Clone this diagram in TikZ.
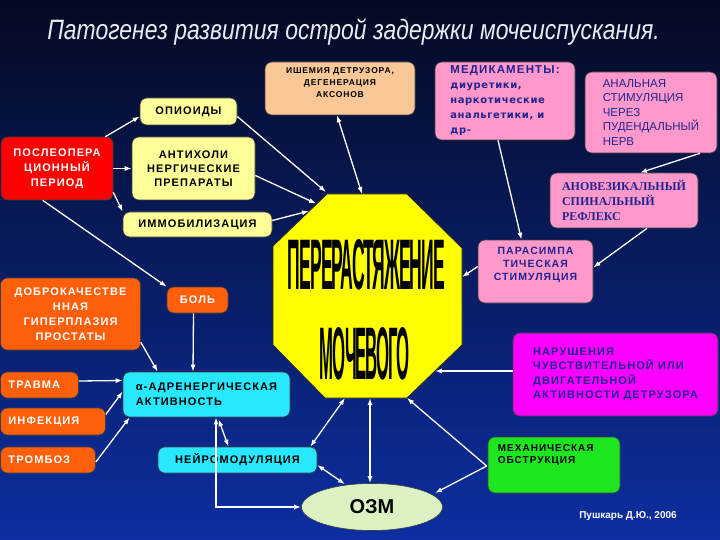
\documentclass[tikz,border=0pt]{standalone}
\usepackage{fontspec}
\usepackage{graphicx}
\setmainfont{Liberation Sans}
\newfontfamily\widefont[LetterSpace=10]{Liberation Sans}
\newfontfamily\dvfont[LetterSpace=6]{DejaVu Sans}
\newfontfamily\serfont{Liberation Serif}
\newfontfamily\bigfont[LetterSpace=-6]{Liberation Sans}
\usetikzlibrary{arrows.meta,calc,shapes.geometric}
\definecolor{bgtop}{RGB}{5,10,35}
\definecolor{bgmid}{RGB}{10,36,130}
\definecolor{bgbot}{RGB}{12,46,160}
\definecolor{lyel}{RGB}{255,255,153}
\definecolor{peach}{RGB}{250,200,150}
\definecolor{pinkb}{RGB}{255,153,204}
\definecolor{magb}{RGB}{255,0,255}
\definecolor{greenb}{RGB}{30,230,30}
\definecolor{ozmc}{RGB}{220,242,195}
\definecolor{cyanb}{RGB}{40,232,255}
\definecolor{orangeb}{RGB}{255,95,10}
\definecolor{redb}{RGB}{255,0,0}
\definecolor{octy}{RGB}{255,255,0}
\definecolor{tblue}{RGB}{35,35,140}
\definecolor{titlec}{RGB}{235,235,245}
\tikzset{
  box/.style={rounded corners=7pt, draw=black!75, line width=0.6pt, inner sep=0pt,
    align=center, text=black, font=\widefont\bfseries\fontsize{11}{15}\selectfont},
  lbox/.style={box, align=left},
  conn/.style={draw=white, line width=1.3pt, -{Latex[length=7pt,width=5pt]}},
  dconn/.style={draw=white, line width=1.3pt, {Latex[length=7pt,width=5pt]}-{Latex[length=7pt,width=5pt]}},
}
\begin{document}
\begin{tikzpicture}[x=1pt,y=-1pt]
\useasboundingbox (0,0) rectangle (720,540);
\shade[top color=bgtop, middle color=bgmid, bottom color=bgbot] (0,0) rectangle (720,540);

% title
\node[anchor=base, inner sep=0, text=titlec, font=\itshape\fontsize{28}{30}\selectfont] (title) at (353.5,40)
  {\scalebox{0.82}[1]{Патогенез развития острой задержки мочеиспускания.}};

% left / top boxes
\node[box, fill=lyel, minimum width=97, minimum height=27] (op) at (188.5,111.5) {ОПИОИДЫ};
\node[box, fill=redb, text=white, minimum width=112, minimum height=63] (post) at (57,168.5) {ПОСЛЕОПЕРА\\ЦИОННЫЙ\\ПЕРИОД};
\node[box, fill=lyel, minimum width=123, minimum height=63, font=\widefont\bfseries\fontsize{11}{14}\selectfont] (anti) at (193.5,168.5) {АНТИХОЛИ\\НЕРГИЧЕСКИЕ\\ПРЕПАРАТЫ};
\node[box, fill=lyel, minimum width=149, minimum height=25] (immob) at (197.5,224.5) {ИММОБИЛИЗАЦИЯ};
\node[box, fill=peach, minimum width=150, minimum height=53] (ischem) at (340,88.5) {};
\node[anchor=north, inner sep=0, align=center, font=\widefont\bfseries\fontsize{8.5}{12}\selectfont] (ischemt)
  at ($(ischem.north)+(0,6)$) {ИШЕМИЯ ДЕТРУЗОРА,\\ДЕГЕНЕРАЦИЯ\\АКСОНОВ};

% right boxes
\node[lbox, fill=pinkb, text=tblue, minimum width=140, minimum height=78, font=\dvfont\bfseries\fontsize{10}{15}\selectfont] (med) at (505,101)
  {{\widefont\fontsize{11.5}{15}\selectfont МЕДИКАМЕНТЫ:}\\диуретики,\\наркотические\\анальгетики, и\\др-};
\node[lbox, fill=pinkb, text=tblue, minimum width=132, minimum height=81, font=\fontsize{11.5}{14.5}\selectfont] (anal) at (651,112.5)
  {АНАЛЬНАЯ\\СТИМУЛЯЦИЯ\\ЧЕРЕЗ\\ПУДЕНДАЛЬНЫЙ\\НЕРВ};
\node[lbox, fill=pinkb, text=tblue, minimum width=148, minimum height=55, font=\serfont\bfseries\fontsize{12}{15}\selectfont] (anov) at (624,200.5)
  {АНОВЕЗИКАЛЬНЫЙ\\СПИНАЛЬНЫЙ\\РЕФЛЕКС};
\node[box, fill=pinkb, minimum width=115, minimum height=63] (para) at (535.5,271.5) {};
\node[anchor=north, inner sep=0, align=center, text=tblue, font=\widefont\bfseries\fontsize{10.5}{13}\selectfont] (parat)
  at ($(para.north)+(0,7)$) {ПАРАСИМПА\\ТИЧЕСКАЯ\\СТИМУЛЯЦИЯ};
\node[lbox, fill=magb, text=tblue, minimum width=205, minimum height=83, font=\widefont\bfseries\fontsize{11}{14.5}\selectfont] (nar) at (615.5,374.5)
  {НАРУШЕНИЯ\\ЧУВСТВИТЕЛЬНОЙ ИЛИ\\ДВИГАТЕЛЬНОЙ\\АКТИВНОСТИ ДЕТРУЗОРА};
\node[box, fill=greenb, minimum width=132, minimum height=56] (mech) at (554,465) {};
\node[anchor=north west, inner sep=0, align=left, font=\widefont\bfseries\fontsize{10}{12}\selectfont] (mecht)
  at ($(mech.north west)+(10,8)$) {МЕХАНИЧЕСКАЯ\\ОБСТРУКЦИЯ};

% lower left boxes
\node[box, fill=orangeb, text=white, minimum width=61, minimum height=26] (bol) at (197.5,300) {БОЛЬ};
\node[box, fill=orangeb, text=white, minimum width=140, minimum height=72] (dobr) at (70.5,314)
  {ДОБРОКАЧЕСТВЕ\\ННАЯ\\ГИПЕРПЛАЗИЯ\\ПРОСТАТЫ};
\node[box, fill=orangeb, text=white, align=left, text width=62, inner xsep=8, minimum height=26] (trav) at (39.5,385) {ТРАВМА};
\node[box, fill=orangeb, text=white, align=left, text width=89, inner xsep=8, minimum height=27] (inf) at (53,421.5) {ИНФЕКЦИЯ};
\node[box, fill=orangeb, text=white, align=left, text width=79, inner xsep=8, minimum height=26] (tromb) at (48,460) {ТРОМБОЗ};
\node[lbox, fill=cyanb, minimum width=167, minimum height=45] (alpha) at (206.5,394.5) {α-АДРЕНЕРГИЧЕСКАЯ\\АКТИВНОСТЬ};
\node[box, fill=cyanb, minimum width=159, minimum height=26] (neuro) at (237.5,460) {НЕЙРОМОДУЛЯЦИЯ};
\node[ellipse, draw=black!75, line width=0.6pt, fill=ozmc, minimum width=141, minimum height=47, inner sep=0,
  font=\bfseries\fontsize{20}{24}\selectfont] (ozm) at (372,507) {ОЗМ};
\node[text=white, inner sep=0, font=\bfseries\fontsize{10}{12}\selectfont] (push) at (628,516) {Пушкарь Д.Ю., 2006};

% octagon
\draw[fill=octy, draw=black!85, line width=0.8pt] (327,194) -- (407,194) -- (462,248) -- (462,345) -- (407,398) -- (325,398) -- (273,345) -- (273,246) -- cycle;
\node[inner sep=0] (w1) at (366.5,265) {\resizebox{157pt}{50pt}{\bigfont\bfseries ПЕРЕРАСТЯЖЕНИЕ}};
\node[inner sep=0] (w2) at (365,354) {\resizebox{90pt}{52pt}{\bigfont\bfseries МОЧЕВОГО}};
\coordinate (oA) at (326,192);
\coordinate (oB) at (316,203.5);
\coordinate (oC) at (309,211);
\coordinate (oD) at (362,194);
\coordinate (oE) at (462,277);
\coordinate (oF) at (435,371);
\coordinate (oG) at (345,398);
\coordinate (oH) at (370,398);
\coordinate (oI) at (407,398);

% connectors
\draw[conn] ($(post.north east)+(-8,0)$) -- ($(op.west)+(0,5)$);
\draw[conn] (post.east) -- (anti.west);
\draw[conn] ($(post.south east)+(0,-8)$) -- (immob.north west);
\draw[conn] ($(post.south west)+(42,0)$) -- (bol.north west);
\draw[conn] ($(op.east)+(0,5)$) -- (oA);
\draw[conn] ($(anti.east)+(0,7)$) -- (oB);
\draw[conn] ($(immob.east)+(0,-4)$) -- (oC);
\draw[dconn] ($(ischem.south)+(-3,0)$) -- (oD);
\draw[conn] ($(med.south)+(-7,0)$) -- ($(para.north)+(-14,0)$);
\draw[conn] ($(anal.south)+(49,0)$) -- ($(anov.north)+(16,0)$);
\draw[conn] ($(anov.south)+(23,0)$) -- ($(para.east)+(0,-4)$);
\draw[conn] ($(para.west)+(0,-5)$) -- (oE);
\draw[conn] ($(nar.west)+(0,-3.5)$) -- (oF);
\draw[conn] ($(dobr.south east)+(0,-8)$) -- ($(alpha.north west)+(35,0)$);
\draw[conn] ($(bol.south)+(-4,0)$) -- ($(alpha.north)+(-13.5,0)$);
\draw[conn] ($(trav.east)+(0,-4)$) -- ($(alpha.west)+(0,-14)$);
\draw[conn] ($(inf.east)+(0,-7)$) -- ($(alpha.west)+(0,-3)$);
\draw[conn] ($(tromb.east)+(0,2)$) -- ($(alpha.south west)+(7,0)$);
\draw[dconn] ($(alpha.south)+(9.5,0)$) |- (ozm.west);
\draw[dconn] ($(alpha.south)+(12,2)$) -- ($(neuro.north)+(-9,0)$);
\draw[dconn] ($(neuro.north east)+(-7,0)$) -- (oG);
\draw[dconn] ($(neuro.east)+(0,5)$) -- ($(ozm.north)+(-27,1)$);
\draw[dconn] (oH) -- ($(ozm.north)+(-2,0)$);
\draw[conn] ($(mech.west)+(-1,1)$) -- (oI);
\draw[conn] ($(mech.west)+(-1,1)$) -- ($(ozm.center)+(63,-14)$);
\end{tikzpicture}
\end{document}
